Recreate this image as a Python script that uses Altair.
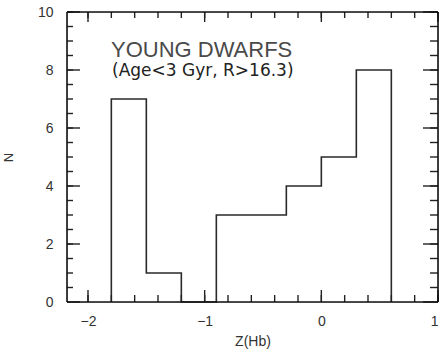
import altair as alt
import pandas as pd
import numpy as np

# Histogram data
bin_edges = [-1.8, -1.5, -1.2, -0.9, -0.6, -0.3, 0.0, 0.3, 0.6]
counts = [7, 1, 0, 3, 3, 4, 5, 8]

x_major = [-2, -1, 0, 1]
x_minor = [-2.0, -1.8, -1.6, -1.4, -1.2, -1.0, -0.8, -0.6, -0.4, -0.2, 0.0, 0.2, 0.4, 0.6, 0.8, 1.0]
y_major = [0, 2, 4, 6, 8, 10]
y_minor = [0.5, 1, 1.5, 2, 2.5, 3, 3.5, 4, 4.5, 5, 5.5, 6, 6.5, 7, 7.5, 8, 8.5, 9, 9.5, 10]

title1 = "YOUNG  DWARFS"
title2 = "(Age<3 Gyr, R>16.3)"

W, H = 371, 290
XDOM = [-2.18, 1.0]
YDOM = [0, 10]
FONT = "Liberation Sans"

# Build step outline
px, py = [], []
prev = 0
for i, c in enumerate(counts):
    px += [bin_edges[i], bin_edges[i]]
    py += [prev, c]
    prev = c
px += [bin_edges[-1], bin_edges[-1]]
py += [prev, 0]
hist = pd.DataFrame({"x": px, "y": py, "o": range(len(px))})

xs = alt.Scale(domain=XDOM, nice=False, zero=False)
ys = alt.Scale(domain=YDOM, nice=False, zero=False)

line = alt.Chart(hist).mark_line(color="#2a2a2a", strokeWidth=1.6).encode(
    x=alt.X("x:Q", scale=xs, axis=alt.Axis(values=x_major, ticks=False, domain=False, grid=False,
                                           labelFont=FONT, labelFontSize=14, labelColor="#333",
                                           labelPadding=12, title="Z(Hb)", titleFont=FONT,
                                           titleFontSize=14, titleFontWeight="normal", titleColor="#333",
                                           titlePadding=6, format="d")),
    y=alt.Y("y:Q", scale=ys, axis=alt.Axis(values=y_major, ticks=False, domain=False, grid=False,
                                           labelFont=FONT, labelFontSize=14, labelColor="#333",
                                           labelPadding=14, title="N", titleFont=FONT,
                                           titleFontSize=13, titleFontWeight="normal", titleColor="#333",
                                           titlePadding=22)),
    order="o:Q",
)

def xticks(vals, length, top):
    df = pd.DataFrame({"v": vals})
    if top:
        yy, yy2 = alt.value(0), alt.value(length)
    else:
        yy, yy2 = alt.value(H), alt.value(H - length)
    return alt.Chart(df).mark_rule(color="#222", strokeWidth=1.4).encode(
        x=alt.X("v:Q", scale=xs), y=yy, y2=yy2)

def yticks(vals, length, right):
    df = pd.DataFrame({"v": vals})
    if right:
        xx, xx2 = alt.value(W), alt.value(W - length)
    else:
        xx, xx2 = alt.value(0), alt.value(length)
    return alt.Chart(df).mark_rule(color="#222", strokeWidth=1.4).encode(
        y=alt.Y("v:Q", scale=ys), x=xx, x2=xx2)

ticks = [
    xticks(x_major, 12, False), xticks(x_minor, 7, False),
    xticks(x_major, 10, True), xticks(x_minor, 6, True),
    yticks(y_major, 13, False), yticks(y_minor, 6, False),
    yticks(y_major, 15, True), yticks(y_minor, 8, True),
]

# dark frame around the plot, from the axis domain limits
frame_v = alt.Chart(pd.DataFrame({"v": XDOM})).mark_rule(color="#111", strokeWidth=1.6).encode(
    x=alt.X("v:Q", scale=xs), y=alt.value(0), y2=alt.value(H))
frame_h = alt.Chart(pd.DataFrame({"v": YDOM})).mark_rule(color="#111", strokeWidth=1.6).encode(
    y=alt.Y("v:Q", scale=ys), x=alt.value(0), x2=alt.value(W))

t1 = alt.Chart(pd.DataFrame({"t": [title1]})).mark_text(
    align="left", baseline="middle", font=FONT, fontSize=22, color="#4a4a4a"
).encode(text="t:N", x=alt.value(44), y=alt.value(37.5))
t2 = alt.Chart(pd.DataFrame({"t": [title2]})).mark_text(
    align="left", baseline="middle", font="DejaVu Sans", fontSize=17, color="#222"
).encode(text="t:N", x=alt.value(45), y=alt.value(58.5))

chart = alt.layer(line, *ticks, frame_v, frame_h, t1, t2).properties(
    width=W, height=H,
    autosize=alt.AutoSizeParams(type="none"),
    padding={"left": 67, "top": 12, "right": 2, "bottom": 58},
).configure_view(stroke="#111", strokeWidth=1.6).configure(background="white")

chart.save("out.html", embed_options={"renderer": "svg", "actions": False})
